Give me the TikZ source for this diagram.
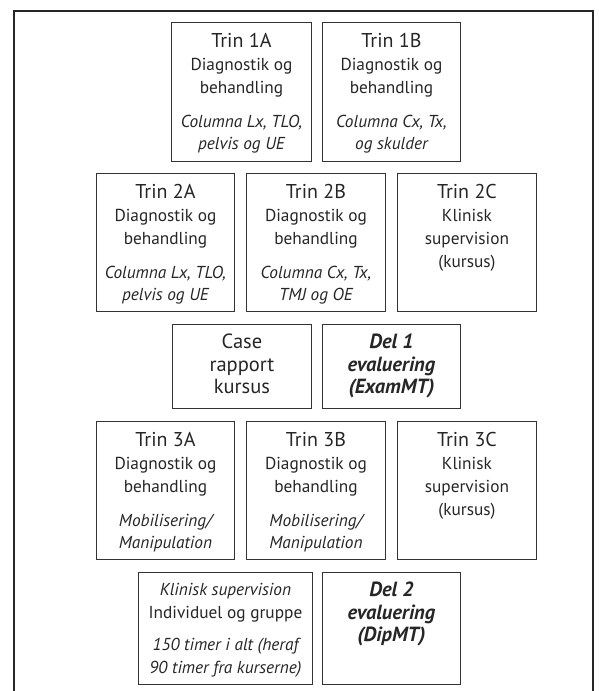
\documentclass[tikz,border=0pt]{standalone}
\usepackage{fontspec}
\setmainfont{PT Sans}
\newcommand{\tittel}{\fontsize{20}{23}\selectfont}
\newcommand{\brod}{\fontsize{17.3}{22.8}\selectfont}
\newcommand{\stor}{\fontsize{20.5}{22.5}\selectfont}
\newcommand{\kassetxt}[3]{\parbox[t][#2][t]{#1}{\centering\brod\vspace*{11pt}#3}}
\begin{document}
\begin{tikzpicture}[x=1pt,y=-1pt,
  kasse/.style={draw=black!80, line width=0.9pt, inner sep=0pt, anchor=north west, text=black!85},
  ramme/.style={draw=black!85, line width=2pt}]
\useasboundingbox (0,0) rectangle (599,691);
\path[ramme] (13.5,691) -- (13.5,10.5) -- (592.5,10.5) -- (592.5,691);
% trin 1
\node[kasse] (1A) at (171,22) {\kassetxt{140pt}{139pt}{{\tittel Trin 1A}\\ Diagnostik og\\ behandling\\[11pt] \itshape Columna Lx, TLO,\\ pelvis og UE}};
\node[kasse] (1B) at (322,22) {\kassetxt{138pt}{139pt}{{\tittel Trin 1B}\\ Diagnostik og\\ behandling\\[11pt] \itshape Columna Cx, Tx,\\ og skulder}};
% trin 2
\node[kasse] (2A) at (96,173) {\kassetxt{138pt}{138pt}{{\tittel Trin 2A}\\ Diagnostik og\\ behandling\\[11pt] \itshape Columna Lx, TLO,\\ pelvis og UE}};
\node[kasse] (2B) at (246,173) {\kassetxt{139pt}{138pt}{{\tittel Trin 2B}\\ Diagnostik og\\ behandling\\[11pt] \itshape Columna Cx, Tx,\\ TMJ og OE}};
\node[kasse] (2C) at (397,173) {\kassetxt{139pt}{138pt}{{\tittel Trin 2C}\\ Klinisk\\ supervision\\ (kursus)}};
% case og del 1
\node[kasse] (case) at (172,324) {\kassetxt{139pt}{84pt}{\stor\vspace*{-1.5pt}Case\\ rapport\\ kursus}};
\node[kasse] (del1) at (322,324) {\kassetxt{138pt}{84pt}{\stor\vspace*{-1.5pt}\bfseries\itshape Del 1\\ evaluering\\ (ExamMT)}};
% trin 3
\node[kasse] (3A) at (96,421) {\kassetxt{138pt}{138pt}{{\tittel Trin 3A}\\ Diagnostik og\\ behandling\\[11pt] \itshape Mobilisering/\\ Manipulation}};
\node[kasse] (3B) at (246,421) {\kassetxt{139pt}{138pt}{{\tittel Trin 3B}\\ Diagnostik og\\ behandling\\[11pt] \itshape Mobilisering/\\ Manipulation}};
\node[kasse] (3C) at (397,421) {\kassetxt{139pt}{138pt}{{\tittel Trin 3C}\\ Klinisk\\ supervision\\ (kursus)}};
% klinisk supervision og del 2
\node[kasse] (klin) at (138,572) {\kassetxt{174pt}{112pt}{\textit{Klinisk supervision}\\ Individuel og gruppe\\[9pt] \itshape 150 timer i alt (heraf\\ 90 timer fra kurserne)}};
\node[kasse] (del2) at (322,572) {\kassetxt{138pt}{112pt}{\stor\vspace*{-1.5pt}\bfseries\itshape Del 2\\ evaluering\\ (DipMT)}};
\end{tikzpicture}
\end{document}
